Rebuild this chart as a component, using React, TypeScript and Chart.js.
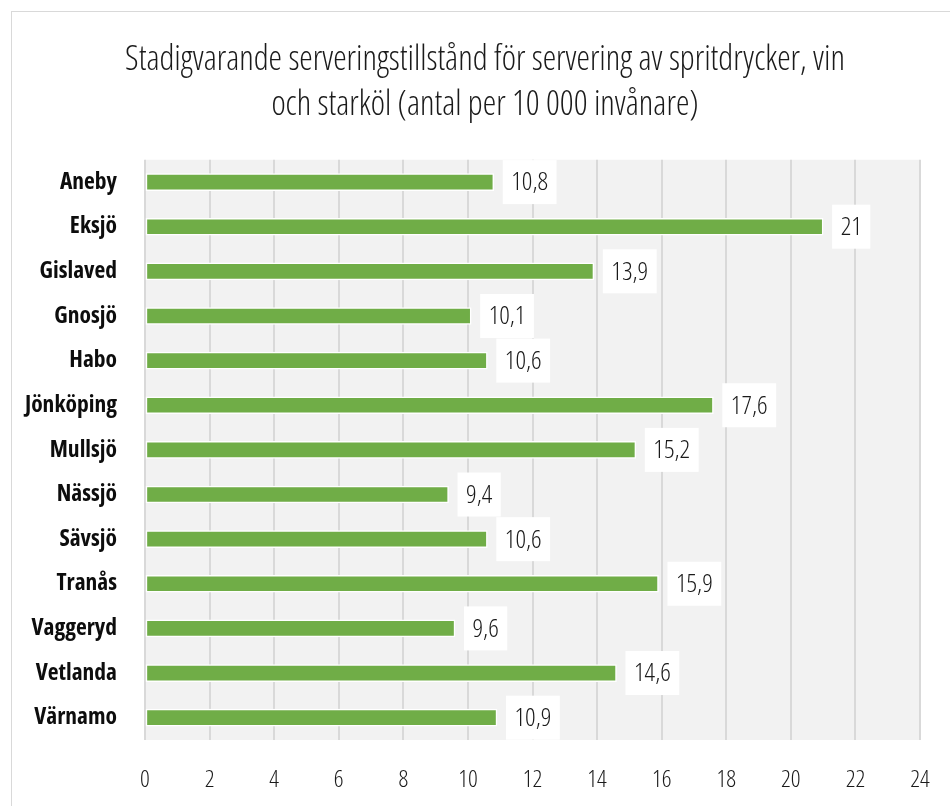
import React, { useEffect, useRef } from "react";
import { Chart, registerables } from "chart.js";

Chart.register(...registerables);

const categories = [
  "Aneby", "Eksjö", "Gislaved", "Gnosjö", "Habo", "Jönköping", "Mullsjö",
  "Nässjö", "Sävsjö", "Tranås", "Vaggeryd", "Vetlanda", "Värnamo",
];
const values = [10.8, 21, 13.9, 10.1, 10.6, 17.6, 15.2, 9.4, 10.6, 15.9, 9.6, 14.6, 10.9];
const titleLines = [
  "Stadigvarande serveringstillstånd för servering av spritdrycker, vin",
  "och starköl (antal per 10 000 invånare)",
];
const xMin = 0;
const xMax = 24;
const xStep = 2;

const FAMILY = "'Open Sans'";
const fmt = (v: number) => String(v).replace(".", ",");

const bgPlugin = {
  id: "plotBg",
  afterLayout(chart: any) {
    // center the title over the whole chart box, not only the padded area
    if (chart.titleBlock) {
      chart.titleBlock.left = 0;
      chart.titleBlock.right = chart.width;
    }
  },
  beforeDraw(chart: any) {
    const { ctx, chartArea } = chart;
    ctx.save();
    ctx.fillStyle = "#f2f2f2";
    ctx.fillRect(chartArea.left, chartArea.top, chartArea.right - chartArea.left, chartArea.bottom - chartArea.top);
    ctx.restore();
  },
};

const labelPlugin = {
  id: "valueBoxes",
  afterDatasetsDraw(chart: any) {
    const { ctx } = chart;
    const meta = chart.getDatasetMeta(0);
    ctx.save();
    ctx.font = "condensed 300 26px " + FAMILY;
    ctx.textBaseline = "middle";
    ctx.textAlign = "left";
    meta.data.forEach((bar: any, i: number) => {
      const text = fmt(values[i]);
      const w = ctx.measureText(text).width;
      const x0 = bar.x + 9;
      const h = 44;
      ctx.fillStyle = "#ffffff";
      ctx.fillRect(x0, bar.y - h / 2, w + 17, h);
      ctx.fillStyle = "#1a1a1a";
      ctx.fillText(text, x0 + 8.5, bar.y + 1);
    });
    ctx.restore();
  },
};

export default function App() {
  const ref = useRef<HTMLCanvasElement | null>(null);
  useEffect(() => {
    if (!ref.current) return;
    const chart = new Chart(ref.current, {
      type: "bar",
      data: {
        labels: categories,
        datasets: [
          {
            data: values,
            backgroundColor: "#70ad47",
            borderColor: "#ffffff",
            borderWidth: 1.5,
            borderSkipped: false,
            barThickness: 17,
          },
        ],
      },
      options: {
        indexAxis: "y",
        animation: false,
        responsive: false,
        maintainAspectRatio: false,
        layout: { padding: { left: 0, right: 38, top: 0, bottom: 0 } },
        plugins: {
          legend: { display: false },
          tooltip: { enabled: false },
          title: {
            display: true,
            text: titleLines,
            color: "#1a1a1a",
            font: { family: FAMILY, size: 34, weight: "condensed 300" as any, lineHeight: 1.32 },
            padding: { top: 25.5, bottom: 32.5 },
          },
        },
        scales: {
          x: {
            min: xMin,
            max: xMax,
            ticks: {
              stepSize: xStep,
              color: "#1a1a1a",
              padding: 26,
              font: { family: FAMILY, size: 24, weight: "condensed 300" as any },
            },
            grid: { color: "#d9d9d9", lineWidth: 2, drawTicks: false },
            border: { display: false },
            afterFit(scale: any) { scale.height = 66; },
          },
          y: {
            ticks: {
              color: "#0d0d0d",
              padding: 28,
              font: { family: FAMILY, size: 23.5, weight: "condensed bold" as any },
            },
            grid: { display: false, drawTicks: false },
            border: { display: false },
            afterFit(scale: any) { scale.width = 133; },
          },
        },
      },
      plugins: [bgPlugin, labelPlugin],
    });
    return () => chart.destroy();
  }, []);

  return (
    <div style={{ position: "absolute", left: 0, top: 0, width: 950, height: 806, overflow: "hidden", background: "#fff" }}>
      <div style={{ position: "absolute", left: 11, top: 11, width: 960, height: 810, border: "1.5px solid #d9d9d9", boxSizing: "border-box" }} />
      <canvas ref={ref} width={946} height={794} style={{ position: "absolute", left: 12, top: 12, width: 946, height: 794 }} />
    </div>
  );
}
